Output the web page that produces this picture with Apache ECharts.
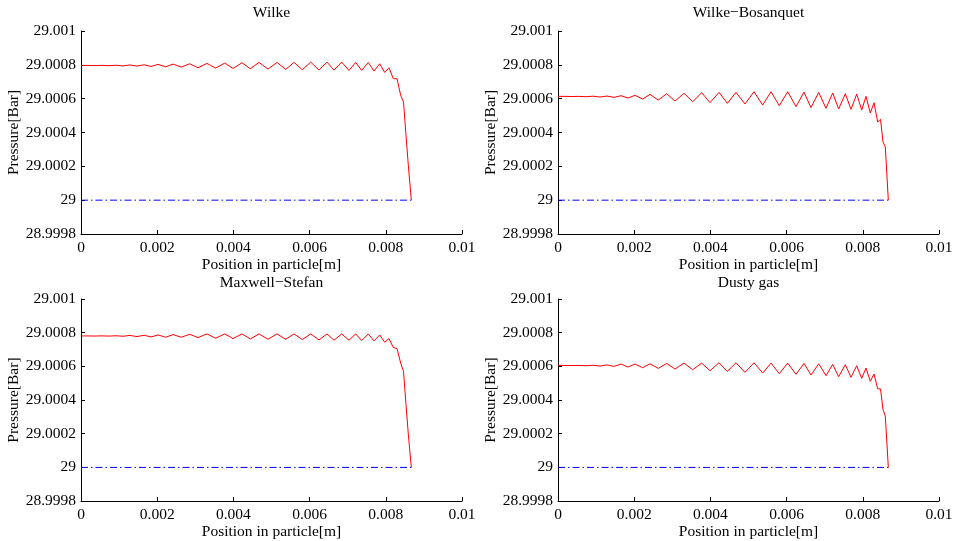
<!DOCTYPE html>
<html>
<head>
<meta charset="utf-8">
<script src="https://cdn.jsdelivr.net/npm/echarts@6/dist/echarts.min.js"></script>
<style>
  html, body { margin: 0; padding: 0; background: #fff; }
  #chart { width: 956px; height: 541px; }
</style>
</head>
<body>
<div id="chart"></div>
<script>
// Radial grid positions inside the particle [m]
const xPos = [
  0, 0.000184, 0.000367, 0.000551, 0.000735, 0.000919, 0.001102, 0.001286, 0.00147, 0.001654,
  0.001837, 0.002021, 0.002223, 0.002415, 0.002633, 0.002853, 0.003071, 0.003307, 0.003535, 0.003772,
  0.00399, 0.004226, 0.004444, 0.004672, 0.004908, 0.005144, 0.005373, 0.005591, 0.005808, 0.006029,
  0.006247, 0.006457, 0.00664, 0.006843, 0.007034, 0.00721, 0.007367, 0.007541, 0.00769, 0.00784,
  0.007971, 0.008084, 0.008197, 0.008294, 0.008391, 0.008465, 0.00853, 0.008591, 0.00867
];

// Pressure profiles [Bar] for each diffusion model
const wilke = [
  29.0007965, 29.0007965, 29.0007955, 29.0007969, 29.0007949, 29.0007975, 29.0007935, 29.0007994, 29.0007925, 29.0008004,
  29.0007906, 29.0008024, 29.0007886, 29.0008043, 29.0007866, 29.0008063, 29.0007827, 29.0008083, 29.0007807, 29.0008102,
  29.0007788, 29.0008122, 29.0007768, 29.0008142, 29.0007748, 29.0008142, 29.0007729, 29.0008142, 29.0007709, 29.0008161,
  29.0007689, 29.0008161, 29.0007689, 29.0008161, 29.000767, 29.0008142, 29.000767, 29.0008142, 29.000763, 29.0008063,
  29.0007552, 29.0007827, 29.0007178, 29.0007178, 29.0006195, 29.0005801, 29.0003835, 29.0002065, 29.0
];
const wilkeBosanquet = [
  29.0006136, 29.0006136, 29.0006126, 29.0006136, 29.0006116, 29.0006146, 29.0006096, 29.0006155, 29.0006077, 29.0006175,
  29.0006037, 29.0006195, 29.0005978, 29.0006254, 29.0005919, 29.0006293, 29.000586, 29.0006313, 29.0005821, 29.0006352,
  29.0005762, 29.0006372, 29.0005723, 29.0006372, 29.0005683, 29.0006411, 29.0005624, 29.0006411, 29.0005585, 29.0006411,
  29.0005526, 29.0006391, 29.0005467, 29.0006372, 29.0005428, 29.0006333, 29.0005388, 29.0006293, 29.0005369, 29.0006274,
  29.0005329, 29.0006136, 29.0005152, 29.0005762, 29.0004622, 29.0004779, 29.0003442, 29.0003147, 29.0
];
const maxwellStefan = [
  29.0007807, 29.0007807, 29.0007801, 29.0007811, 29.0007798, 29.0007817, 29.0007788, 29.0007837, 29.0007768, 29.0007847,
  29.0007748, 29.0007866, 29.0007729, 29.0007886, 29.0007729, 29.0007906, 29.0007709, 29.0007925, 29.000767, 29.0007925,
  29.000765, 29.0007925, 29.000763, 29.0007925, 29.0007611, 29.0007925, 29.0007611, 29.0007925, 29.0007591, 29.0007925,
  29.0007571, 29.0007925, 29.0007552, 29.0007925, 29.0007552, 29.0007925, 29.0007532, 29.0007925, 29.0007512, 29.0007866,
  29.0007434, 29.000765, 29.0007119, 29.000706, 29.0006195, 29.0005703, 29.0003737, 29.0001967, 29.0
];
const dustyGas = [
  29.0006057, 29.0006057, 29.0006047, 29.0006057, 29.0006037, 29.0006067, 29.0006018, 29.0006087, 29.0005998, 29.0006136,
  29.0005959, 29.0006136, 29.0005919, 29.0006155, 29.000588, 29.0006175, 29.0005841, 29.0006195, 29.0005801, 29.0006195,
  29.0005742, 29.0006214, 29.0005703, 29.0006214, 29.0005644, 29.0006214, 29.0005605, 29.0006195, 29.0005565, 29.0006195,
  29.0005526, 29.0006175, 29.0005487, 29.0006155, 29.0005447, 29.0006116, 29.0005388, 29.0006096, 29.0005349, 29.0006037,
  29.000529, 29.00059, 29.0005113, 29.0005546, 29.0004661, 29.0004661, 29.0003442, 29.0003048, 29.0
];

// Bulk (surface) pressure reference line
const bulkPressure = 29;

const panelTitles = ['Wilke', 'Wilke\u2212Bosanquet', 'Maxwell\u2212Stefan', 'Dusty gas'];
const profiles = [wilke, wilkeBosanquet, maxwellStefan, dustyGas];

// Axis ticks
const xTickLabels = ['0', '0.002', '0.004', '0.006', '0.008', '0.01'];
const yTickLabels = ['28.9998', '29', '29.0002', '29.0004', '29.0006', '29.0008', '29.001'];
const xMin = 0, xMax = 0.01, xStep = 0.002;
const yMin = 28.9998, yMax = 29.001, yStep = 0.0002;

const FONT = '"Liberation Serif", "Times New Roman", serif';
const FS = 15.5;

const panelLeft = [81, 558];
const panelTop = [31, 299];
const titleGap = [26, 24];
const panelW = 381, panelH = 203;

const grids = [], xAxes = [], yAxes = [], series = [], titles = [];

for (let i = 0; i < 4; i++) {
  const col = i % 2, row = Math.floor(i / 2);
  grids.push({ left: panelLeft[col], top: panelTop[row], width: panelW, height: panelH, containLabel: false });
  titles.push({
    text: panelTitles[i],
    left: panelLeft[col] + panelW / 2,
    top: panelTop[row] - titleGap[row],
    textAlign: 'center',
    padding: 0,
    textStyle: { fontFamily: FONT, fontSize: FS, fontWeight: 'normal', color: '#000' }
  });
  xAxes.push({
    type: 'value', gridIndex: i, min: xMin, max: xMax, interval: xStep,
    name: 'Position in particle[m]', nameLocation: 'middle', nameGap: 22,
    nameTextStyle: { fontFamily: FONT, fontSize: FS, color: '#000' },
    axisLine: { show: true, onZero: false, lineStyle: { color: '#000', width: 1 } },
    axisTick: { show: true, inside: true, length: 4, lineStyle: { color: '#000' } },
    axisLabel: {
      fontFamily: FONT, fontSize: FS, color: '#000', margin: 6,
      formatter: (v, idx) => xTickLabels[idx]
    },
    splitLine: { show: false }
  });
  yAxes.push({
    type: 'value', gridIndex: i, min: yMin, max: yMax, interval: yStep,
    name: 'Pressure[Bar]', nameLocation: 'middle', nameGap: 53, nameRotate: 90,
    nameTextStyle: { fontFamily: FONT, fontSize: FS, color: '#000' },
    axisLine: { show: true, onZero: false, lineStyle: { color: '#000', width: 1 } },
    axisTick: { show: true, inside: true, length: 4, lineStyle: { color: '#000' } },
    axisLabel: {
      fontFamily: FONT, fontSize: FS, color: '#000', margin: 5,
      formatter: (v, idx) => yTickLabels[idx]
    },
    splitLine: { show: false }
  });
  series.push({
    type: 'line', xAxisIndex: i, yAxisIndex: i,
    data: xPos.map((x, k) => [x, profiles[i][k]]),
    showSymbol: false, symbol: 'none',
    itemStyle: { color: '#ff0000' },
    lineStyle: { color: '#ff0000', width: 1 },
    animation: false, silent: true
  });
  series.push({
    type: 'line', xAxisIndex: i, yAxisIndex: i,
    data: [[xPos[0], bulkPressure], [xPos[xPos.length - 1], bulkPressure]],
    showSymbol: false, symbol: 'none',
    itemStyle: { color: '#0000ff' },
    lineStyle: { color: '#0000ff', width: 1, type: [7, 3, 1.5, 3] },
    animation: false, silent: true
  });
}

const chart = echarts.init(document.getElementById('chart'), null, { renderer: 'canvas' });
chart.setOption({
  animation: false,
  backgroundColor: '#fff',
  title: titles,
  grid: grids,
  xAxis: xAxes,
  yAxis: yAxes,
  series: series
});
</script>
</body>
</html>
